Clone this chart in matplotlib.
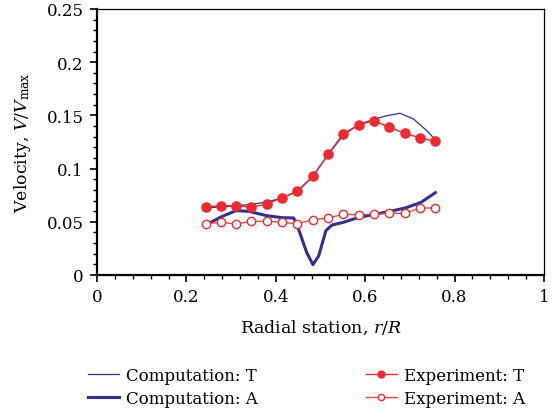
import matplotlib
matplotlib.use("Agg")
import matplotlib.pyplot as plt
from matplotlib.ticker import MultipleLocator, FuncFormatter

plt.rcParams['font.family'] = ['DejaVu Serif']
plt.rcParams['mathtext.fontset'] = 'dejavuserif'

# Experiment data
exp_x = [0.243, 0.277, 0.311, 0.345, 0.380, 0.414, 0.448, 0.483, 0.517, 0.551, 0.586, 0.620, 0.654, 0.689, 0.723, 0.757]
exp_T = [0.0642, 0.0651, 0.0651, 0.0639, 0.0665, 0.0727, 0.0787, 0.0928, 0.1135, 0.1328, 0.1413, 0.1450, 0.1388, 0.1332, 0.1288, 0.1257]
exp_A = [0.0482, 0.0495, 0.0479, 0.0505, 0.0505, 0.0495, 0.0482, 0.0520, 0.0536, 0.0570, 0.0567, 0.0570, 0.0580, 0.0580, 0.0630, 0.0630]

# Computation T
comp_T_x = [0.243, 0.277, 0.311, 0.345, 0.380, 0.414, 0.448, 0.483, 0.517, 0.551, 0.588, 0.622, 0.648, 0.678, 0.708, 0.738, 0.757]
comp_T = [0.0630, 0.0640, 0.0650, 0.0665, 0.0685, 0.0725, 0.0785, 0.0925, 0.1130, 0.1315, 0.1420, 0.1466, 0.1497, 0.1520, 0.1466, 0.1356, 0.1270]

# Computation A
comp_A_x = [0.243, 0.277, 0.311, 0.340, 0.380, 0.414, 0.440, 0.452, 0.469, 0.483, 0.496, 0.512, 0.526, 0.551, 0.586, 0.621, 0.655, 0.690, 0.725, 0.757]
comp_A = [0.0470, 0.0545, 0.0605, 0.0598, 0.0557, 0.0539, 0.0536, 0.0417, 0.0213, 0.0097, 0.0180, 0.0417, 0.0470, 0.0495, 0.0542, 0.0570, 0.0598, 0.0630, 0.0683, 0.0774]

blue = '#2e3192'
red = '#ed2a2f'
red_light = '#f0474b'

W, H = 553, 414
fig = plt.figure(figsize=(W / 100, H / 100), dpi=100)
ax = fig.add_axes([97 / W, 1 - 276 / H, (544 - 97) / W, (276 - 10) / H])

l1, = ax.plot(comp_T_x, comp_T, color=blue, lw=0.9)
l2, = ax.plot(comp_A_x, comp_A, color=blue, lw=2.2)
l3, = ax.plot(exp_x, exp_T, color=red, lw=1.0, marker='o', ms=6.6, mfc=red, mec=red)
l4, = ax.plot(exp_x, exp_A, color=red_light, lw=1.0, marker='o', ms=6.0, mfc='white', mec=red, mew=1.0)

ax.set_xlim(0, 1)
ax.set_ylim(0, 0.25)
ax.xaxis.set_major_locator(MultipleLocator(0.2))
ax.xaxis.set_minor_locator(MultipleLocator(0.04))
ax.yaxis.set_major_locator(MultipleLocator(0.05))
ax.yaxis.set_minor_locator(MultipleLocator(0.01))
fmt = FuncFormatter(lambda v, p: '%g' % round(v, 4))
ax.xaxis.set_major_formatter(fmt)
ax.yaxis.set_major_formatter(fmt)
ax.tick_params(which='major', direction='out', length=5, width=1.2, labelsize=12, pad=4.5)
ax.tick_params(which='minor', direction='out', length=2.8, width=1.0)
ax.tick_params(top=False, right=False)
ax.spines['left'].set_linewidth(1.6)
ax.spines['bottom'].set_linewidth(1.6)
ax.spines['top'].set_linewidth(0.9)
ax.spines['right'].set_linewidth(0.9)

ax.set_xlabel(r'Radial station, $r/R$', fontsize=12.5, labelpad=9)
ax.set_ylabel(r'Velocity, $V/V_{\mathrm{max}}$', fontsize=12.5, labelpad=10)

common = dict(frameon=False, fontsize=12, handlelength=1.85, handletextpad=0.45,
              labelspacing=0.35, borderpad=0, borderaxespad=0, loc='upper left')
leg1 = fig.legend(handles=[l1, l2], labels=['Computation: T', 'Computation: A'],
                  bbox_to_anchor=(88 / W, 1 - 368 / H), **common)
leg2 = fig.legend(handles=[l3, l4], labels=['Experiment: T', 'Experiment: A'],
                  bbox_to_anchor=(366 / W, 1 - 368 / H), markerscale=0.75, **common)

fig.savefig('out.png', dpi=100)
